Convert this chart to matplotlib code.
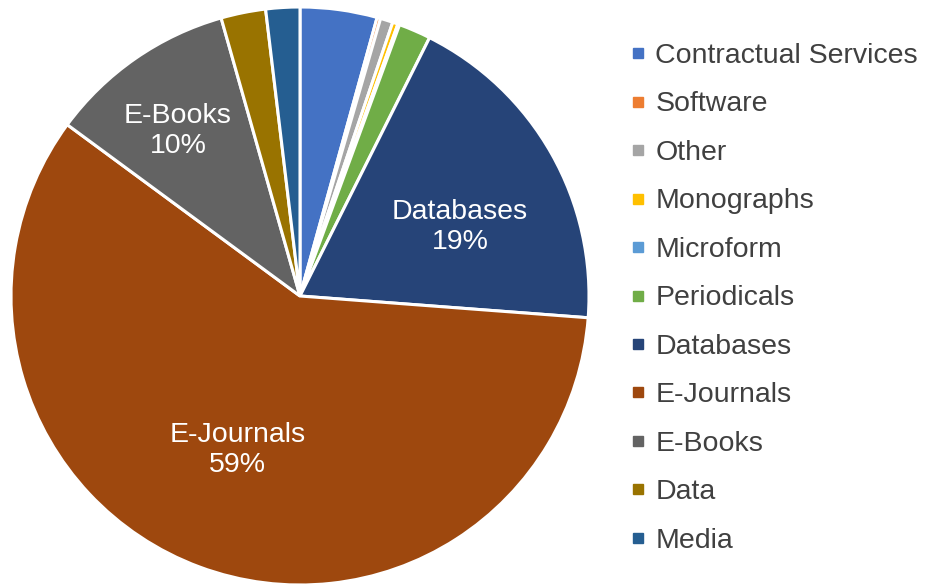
import matplotlib
matplotlib.use("Agg")
import matplotlib.pyplot as plt
import numpy as np
from matplotlib.lines import Line2D

plt.rcParams['font.family'] = ['Liberation Sans', 'DejaVu Sans']

categories = ["Contractual Services", "Software", "Other", "Monographs", "Microform",
              "Periodicals", "Databases", "E-Journals", "E-Books", "Data", "Media"]
values = [4.3, 0.2, 0.7, 0.3, 0.1, 1.8, 18.8, 58.9, 10.5, 2.5, 1.9]
colors = ["#4472C4", "#ED7D31", "#A5A5A5", "#FFC000", "#5B9BD5", "#70AD47",
          "#264478", "#9E480E", "#636363", "#997300", "#255E91"]
label_text = {"Databases": "Databases\n19%", "E-Journals": "E-Journals\n59%", "E-Books": "E-Books\n10%"}
# label centres in pie-radius units
label_xy = {"Databases": (0.554, 0.239), "E-Journals": (-0.215, -0.533), "E-Books": (-0.422, 0.571)}

fig = plt.figure(figsize=(9.28, 5.85), dpi=100)
ax = fig.add_axes([11/928, 0/585, 578/928, 578/585])
wedges, _ = ax.pie(values, colors=colors, startangle=90, counterclock=False, radius=1,
                   wedgeprops=dict(edgecolor="white", linewidth=2.2))
ax.set_xlim(-1, 1)
ax.set_ylim(-1, 1)
ax.set_aspect("equal")
ax.axis("off")

for cat, txt in label_text.items():
    x, y = label_xy[cat]
    ax.text(x, y, txt, ha="center", va="center", color="white", fontsize=20.5, linespacing=1.2)

handles = [Line2D([0], [0], marker="s", linestyle="none", markersize=7.5,
                  markerfacecolor=c, markeredgecolor=c) for c in colors]
fig.legend(handles, categories, loc="upper left", bbox_to_anchor=(626/928, 1 - 43/585),
           frameon=False, fontsize=20.5, labelspacing=0.79, handletextpad=0.18,
           handlelength=0.85, labelcolor="#404040", borderaxespad=0, borderpad=0)

fig.savefig("out.png", dpi=100)
